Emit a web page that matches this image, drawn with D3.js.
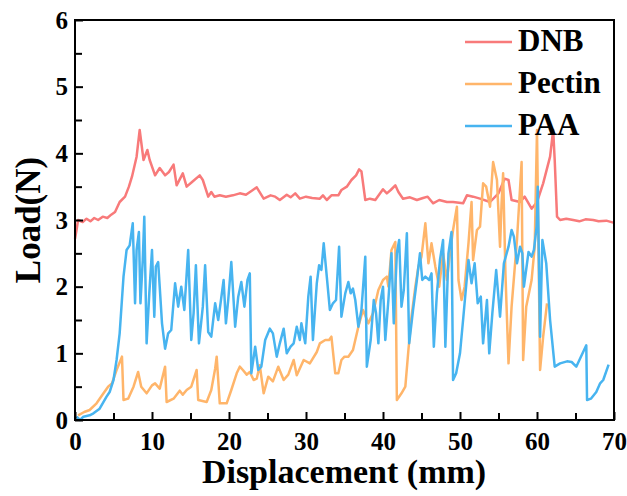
<!DOCTYPE html>
<html>
<head>
<meta charset="utf-8">
<script src="https://cdn.jsdelivr.net/npm/d3@7/dist/d3.min.js"></script>
<style>
  html, body { margin: 0; padding: 0; background: #fff; }
  svg text { font-family: "Liberation Serif", "DejaVu Serif", "Times New Roman", serif; font-weight: bold; fill: #000; }
</style>
</head>
<body>
<svg id="chart" width="627" height="496"></svg>
<script>
// Load–displacement curves (mm, N)
const dnb = [[0,2.72],[0.2,2.85],[0.4,3.0],[1.0,2.97],[1.5,3.02],[2.0,2.98],[2.5,3.03],[3.0,3.0],[3.6,3.05],[4.2,3.03],[4.7,3.08],[5.2,3.12],[5.8,3.27],[6.5,3.35],[7.0,3.5],[7.4,3.65],[8.0,3.95],[8.4,4.35],[8.9,3.9],[9.4,4.05],[9.7,3.9],[10.4,3.67],[11.0,3.78],[11.7,3.67],[12.2,3.72],[12.8,3.83],[13.2,3.52],[14.0,3.7],[14.5,3.5],[15.2,3.57],[16.2,3.67],[16.6,3.6],[17.3,3.35],[17.7,3.42],[18.1,3.35],[18.8,3.37],[19.6,3.35],[20.5,3.37],[21.4,3.4],[22.2,3.38],[23.1,3.45],[23.6,3.49],[24.5,3.32],[25.4,3.37],[26.0,3.35],[26.6,3.3],[27.5,3.38],[28.0,3.34],[28.6,3.4],[29.2,3.32],[30.0,3.35],[30.8,3.33],[31.8,3.32],[32.2,3.37],[32.7,3.3],[33.3,3.37],[34.2,3.37],[34.6,3.45],[35.3,3.5],[35.9,3.6],[36.5,3.67],[36.9,3.76],[37.2,3.73],[37.7,3.3],[38.3,3.32],[39.0,3.3],[40.0,3.46],[40.5,3.4],[41.0,3.45],[41.6,3.52],[42.0,3.42],[42.6,3.32],[43.5,3.34],[44.4,3.3],[45.2,3.33],[45.8,3.35],[46.5,3.25],[47.3,3.3],[48.3,3.27],[49.1,3.27],[50.4,3.25],[50.9,3.37],[51.7,3.35],[52.6,3.32],[53.9,3.27],[55.0,3.4],[55.8,3.62],[56.3,3.6],[56.7,3.3],[57.8,3.27],[58.4,3.35],[59.3,3.17],[60.0,3.27],[60.8,3.55],[61.7,3.95],[62.1,4.35],[62.3,3.9],[62.6,3.05],[63.0,3.0],[63.8,3.02],[64.7,3.0],[65.5,2.98],[66.3,3.01],[67.3,3.0],[68.0,2.98],[69.0,2.99],[69.9,2.96]];

const pectin = [[0.4,0.07],[1.2,0.12],[1.9,0.15],[2.8,0.25],[3.7,0.4],[4.3,0.5],[4.8,0.55],[5.4,0.75],[6.1,0.95],[6.3,0.3],[6.9,0.32],[7.6,0.5],[8.2,0.72],[8.6,0.5],[9.3,0.4],[10.0,0.52],[10.4,0.55],[11.0,0.47],[11.7,0.8],[11.9,0.27],[12.8,0.32],[13.6,0.44],[14.0,0.38],[14.5,0.45],[15.1,0.5],[15.8,0.75],[16.0,0.3],[17.1,0.27],[17.7,0.45],[18.2,0.77],[18.4,0.95],[18.8,0.25],[19.7,0.25],[20.3,0.45],[21.0,0.7],[21.4,0.8],[21.8,0.75],[22.3,0.68],[22.7,0.72],[23.2,0.6],[23.6,0.62],[24.0,0.82],[24.5,0.4],[25.1,0.65],[25.7,0.58],[26.4,0.8],[27.1,0.6],[27.7,0.68],[28.4,0.9],[28.8,0.67],[29.7,0.9],[30.5,0.85],[31.4,1.02],[31.8,1.15],[32.5,1.2],[33.0,1.2],[33.3,1.25],[33.8,0.7],[34.2,0.7],[34.6,0.9],[35.0,0.95],[35.5,0.95],[36.1,1.05],[36.8,1.4],[37.4,1.65],[38.1,1.45],[38.7,1.6],[39.4,1.95],[40.0,2.1],[40.5,2.15],[40.7,2.0],[41.1,2.55],[41.6,2.67],[41.8,0.3],[42.4,0.4],[42.9,0.5],[43.3,1.05],[43.7,1.55],[44.2,2.0],[44.6,2.3],[45.0,2.45],[45.5,2.95],[45.9,2.35],[46.3,2.65],[46.8,2.3],[47.3,2.0],[47.8,2.5],[48.3,2.1],[48.8,2.6],[49.1,2.85],[49.6,3.2],[49.8,2.1],[50.2,1.8],[50.6,2.0],[51.1,2.65],[51.5,3.27],[51.7,2.4],[52.2,2.85],[52.6,2.9],[53.0,3.55],[53.4,3.5],[53.9,3.2],[54.3,3.87],[54.8,3.6],[55.2,2.6],[55.4,3.25],[55.6,3.7],[55.9,2.2],[56.3,0.85],[56.7,1.7],[57.4,2.7],[58.0,3.87],[58.2,0.9],[58.6,1.7],[59.3,2.1],[59.7,2.6],[60.0,4.35],[60.4,0.75],[60.8,1.25],[61.3,1.75]];

const paa = [[0.2,0.05],[0.65,0.0],[1.1,0.05],[1.9,0.07],[2.4,0.1],[3.2,0.17],[4.1,0.35],[4.5,0.42],[5.0,0.6],[5.4,0.9],[5.8,1.3],[6.3,2.15],[6.7,2.55],[7.1,2.62],[7.5,2.95],[7.8,1.75],[8.0,2.55],[8.3,2.82],[8.5,1.75],[8.8,2.4],[9.0,3.05],[9.3,1.15],[9.65,1.9],[10.0,2.55],[10.3,1.55],[10.5,2.3],[10.8,2.37],[11.3,1.45],[11.7,1.07],[12.1,1.3],[12.5,1.35],[13.0,2.05],[13.4,1.7],[13.8,2.0],[14.2,1.65],[14.7,2.55],[15.1,1.2],[15.4,1.6],[15.7,2.32],[16.1,1.15],[16.6,1.7],[16.9,2.32],[17.3,1.32],[17.7,1.25],[18.2,1.75],[18.6,1.5],[18.9,1.75],[19.3,2.1],[19.6,1.45],[19.9,1.8],[20.3,2.37],[20.8,1.4],[21.2,1.85],[21.6,2.07],[22.0,1.7],[22.4,2.1],[22.7,2.2],[22.9,0.7],[23.4,1.1],[23.8,0.75],[24.2,0.8],[24.7,1.2],[25.3,1.37],[25.7,1.3],[26.2,0.95],[26.6,1.15],[27.1,1.37],[27.5,1.0],[28.0,1.1],[28.4,1.15],[28.8,1.4],[29.2,1.2],[29.4,1.45],[29.9,1.15],[30.3,1.85],[30.6,2.15],[30.9,1.2],[31.4,2.05],[31.7,2.32],[32.0,2.25],[32.3,2.65],[32.7,2.15],[33.1,1.65],[33.5,1.75],[33.9,1.8],[34.3,2.6],[34.6,1.55],[35.1,1.9],[35.5,2.07],[35.8,1.9],[36.1,1.97],[36.4,1.8],[36.8,1.4],[37.2,1.65],[37.7,2.45],[37.9,0.8],[38.4,1.2],[38.8,1.8],[39.1,1.6],[39.4,1.15],[39.7,1.8],[40.0,2.0],[40.3,1.2],[40.7,1.8],[41.1,2.5],[41.4,1.45],[41.8,2.5],[42.1,2.7],[42.4,1.7],[42.7,1.95],[43.1,2.8],[43.4,1.15],[43.9,1.65],[44.4,2.1],[44.8,2.5],[45.1,2.1],[45.5,2.15],[46.0,2.1],[46.3,2.2],[46.6,1.1],[47.0,1.9],[47.4,2.4],[47.8,2.7],[48.1,1.1],[48.5,2.5],[48.9,2.82],[49.1,0.6],[49.5,0.7],[50.0,1.0],[50.4,1.5],[51.1,2.4],[51.5,2.05],[51.9,2.35],[52.3,1.75],[52.7,1.85],[53.0,1.15],[53.5,1.8],[53.8,1.0],[54.2,1.6],[54.7,2.25],[55.2,1.55],[55.7,2.35],[56.3,2.6],[56.7,2.85],[57.0,2.75],[57.4,2.35],[57.8,2.6],[58.1,2.5],[58.3,2.0],[58.9,2.52],[59.3,2.45],[59.6,2.55],[59.95,2.9],[60.1,3.5],[60.4,1.25],[60.7,2.7],[61.2,2.35],[61.7,1.5],[62.3,0.8],[63.0,0.85],[63.9,0.88],[64.5,0.87],[65.1,0.8],[66.4,1.12],[66.5,0.3],[67.0,0.32],[67.7,0.42],[68.2,0.55],[68.6,0.6],[69.3,0.83]];

const seriesNames = ["DNB", "Pectin", "PAA"];
const seriesColors = ["#f87a7a", "#ffb56a", "#47b4f0"];
const xTicks = [0, 10, 20, 30, 40, 50, 60, 70];
const yTicks = [0, 1, 2, 3, 4, 5, 6];

const FONT = "'Liberation Serif', 'DejaVu Serif', 'Times New Roman', serif";

const svg = d3.select("#chart");
const m = { left: 75, right: 614, top: 20, bottom: 420 };

const x = d3.scaleLinear().domain([0, 70]).range([m.left, m.right]);
const y = d3.scaleLinear().domain([0, 6]).range([m.bottom, m.top]);

// curves
const line = d3.line().x(d => x(d[0])).y(d => y(d[1]));
const plot = svg.append("g");
[dnb, pectin, paa].forEach((data, i) => {
  plot.append("path")
    .datum(data)
    .attr("d", line)
    .attr("fill", "none")
    .attr("stroke", seriesColors[i])
    .attr("stroke-width", 2.5)
    .attr("stroke-linejoin", "round");
});

// frame
svg.append("rect")
  .attr("x", m.left).attr("y", m.top)
  .attr("width", m.right - m.left).attr("height", m.bottom - m.top)
  .attr("fill", "none").attr("stroke", "#000").attr("stroke-width", 2);

// bottom axis, inward ticks with minor ticks
const xAxis = d3.axisBottom(x).tickValues(xTicks).tickSizeInner(-8).tickSizeOuter(0).tickPadding(12).tickFormat(d3.format("d"));
const gx = svg.append("g").attr("transform", `translate(0,${m.bottom})`).call(xAxis);
gx.attr("font-family", FONT);
gx.select(".domain").remove();
gx.selectAll(".tick line").attr("stroke-width", 2);
gx.selectAll(".tick text").attr("font-family", FONT).style("font-size", "25px").style("font-weight", "bold").attr("dy", "0.71em");
const xMinor = d3.axisBottom(x).tickValues(d3.range(5, 70, 10)).tickSizeInner(-7).tickSizeOuter(0).tickFormat("");
const gxm = svg.append("g").attr("transform", `translate(0,${m.bottom})`).call(xMinor);
gxm.select(".domain").remove();
gxm.selectAll(".tick line").attr("stroke-width", 2);

// left axis
const yAxis = d3.axisLeft(y).tickValues(yTicks).tickSizeInner(-8).tickSizeOuter(0).tickPadding(7).tickFormat(d3.format("d"));
const gy = svg.append("g").attr("transform", `translate(${m.left},0)`).call(yAxis);
gy.attr("font-family", FONT);
gy.select(".domain").remove();
gy.selectAll(".tick line").attr("stroke-width", 2);
gy.selectAll(".tick text").attr("font-family", FONT).style("font-size", "25px").style("font-weight", "bold");
const yMinor = d3.axisLeft(y).tickValues(d3.range(0.5, 6, 1)).tickSizeInner(-7).tickSizeOuter(0).tickFormat("");
const gym = svg.append("g").attr("transform", `translate(${m.left},0)`).call(yMinor);
gym.select(".domain").remove();
gym.selectAll(".tick line").attr("stroke-width", 2);

// axis titles
svg.append("text")
  .attr("x", 344).attr("y", 483)
  .attr("text-anchor", "middle")
  .style("font-size", "34px")
  .text("Displacement (mm)");
svg.append("text")
  .attr("transform", `translate(40,${(m.top + m.bottom) / 2}) rotate(-90)`)
  .attr("text-anchor", "middle")
  .style("font-size", "35px")
  .text("Load(N)");

// legend
const legend = svg.append("g");
seriesNames.forEach((name, i) => {
  const ly = 42 + i * 42;
  legend.append("line")
    .attr("x1", 465).attr("x2", 512).attr("y1", ly).attr("y2", ly)
    .attr("stroke", seriesColors[i]).attr("stroke-width", 2.5);
  legend.append("text")
    .attr("x", 518).attr("y", ly + 9)
    .style("font-size", "31px")
    .text(name);
});
</script>
</body>
</html>
